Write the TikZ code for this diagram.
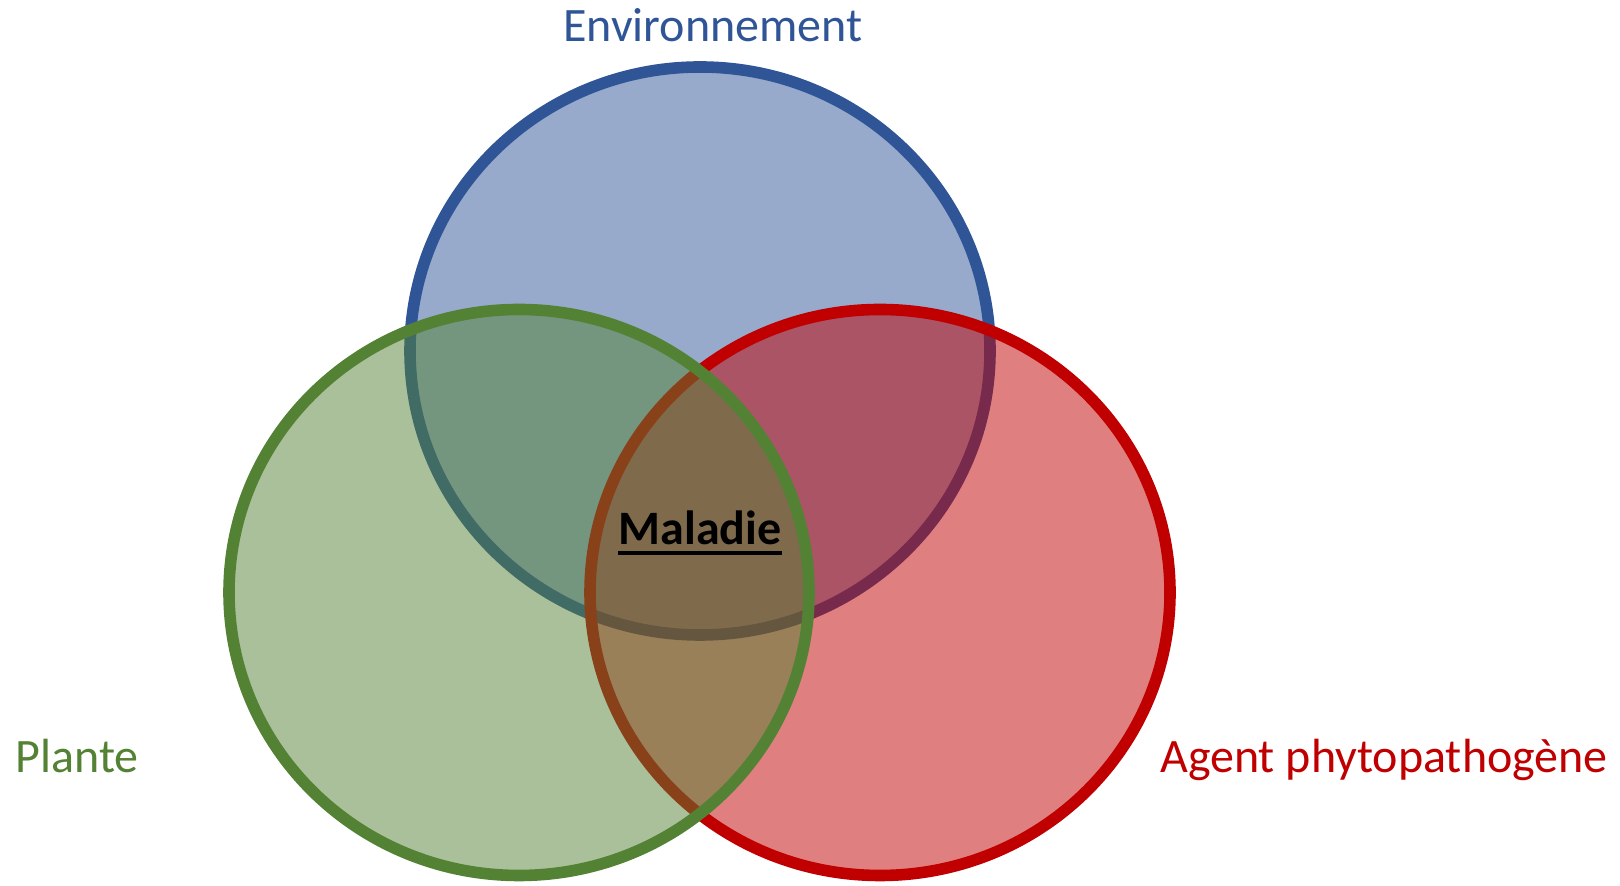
\documentclass[tikz,border=0pt]{standalone}
\usepackage{fontspec}
\setmainfont{Carlito}
\usetikzlibrary{positioning}

\definecolor{envblue}{HTML}{2F5597}
\definecolor{plantgreen}{HTML}{548235}
\definecolor{agentred}{HTML}{C00000}

\begin{document}
\begin{tikzpicture}[
  x=0.5pt, y=0.5pt,
  venn/.style = {line width=5.8pt, fill opacity=0.5, draw opacity=1},
  label/.style = {inner sep=0pt, anchor=base, font=\fontsize{24}{29}\selectfont},
]
  \useasboundingbox (0,0) rectangle (1620,886);

  % the three sets
  \filldraw[venn, draw=envblue, fill=envblue]     (700,535)   ellipse [x radius=290, y radius=284];
  \filldraw[venn, draw=agentred, fill=agentred]   (880,293.5) ellipse [x radius=290, y radius=283];
  \filldraw[venn, draw=plantgreen, fill=plantgreen] (519,293.5) ellipse [x radius=290, y radius=283];

  % labels
  \node[label, text=envblue] (env) at (713,844) {Environnement};
  \node[label, text=plantgreen] (plante) at (77,113) {Plante};
  \node[label, text=agentred] (agent) at (1384,113) {Agent phytopathogène};

  \node[label, font=\fontsize{24}{29}\bfseries] (maladie) at (700,341) {Maladie};
  \draw[line width=1.6pt] ([yshift=-4pt]maladie.base west) -- ([yshift=-4pt]maladie.base east);
\end{tikzpicture}
\end{document}
